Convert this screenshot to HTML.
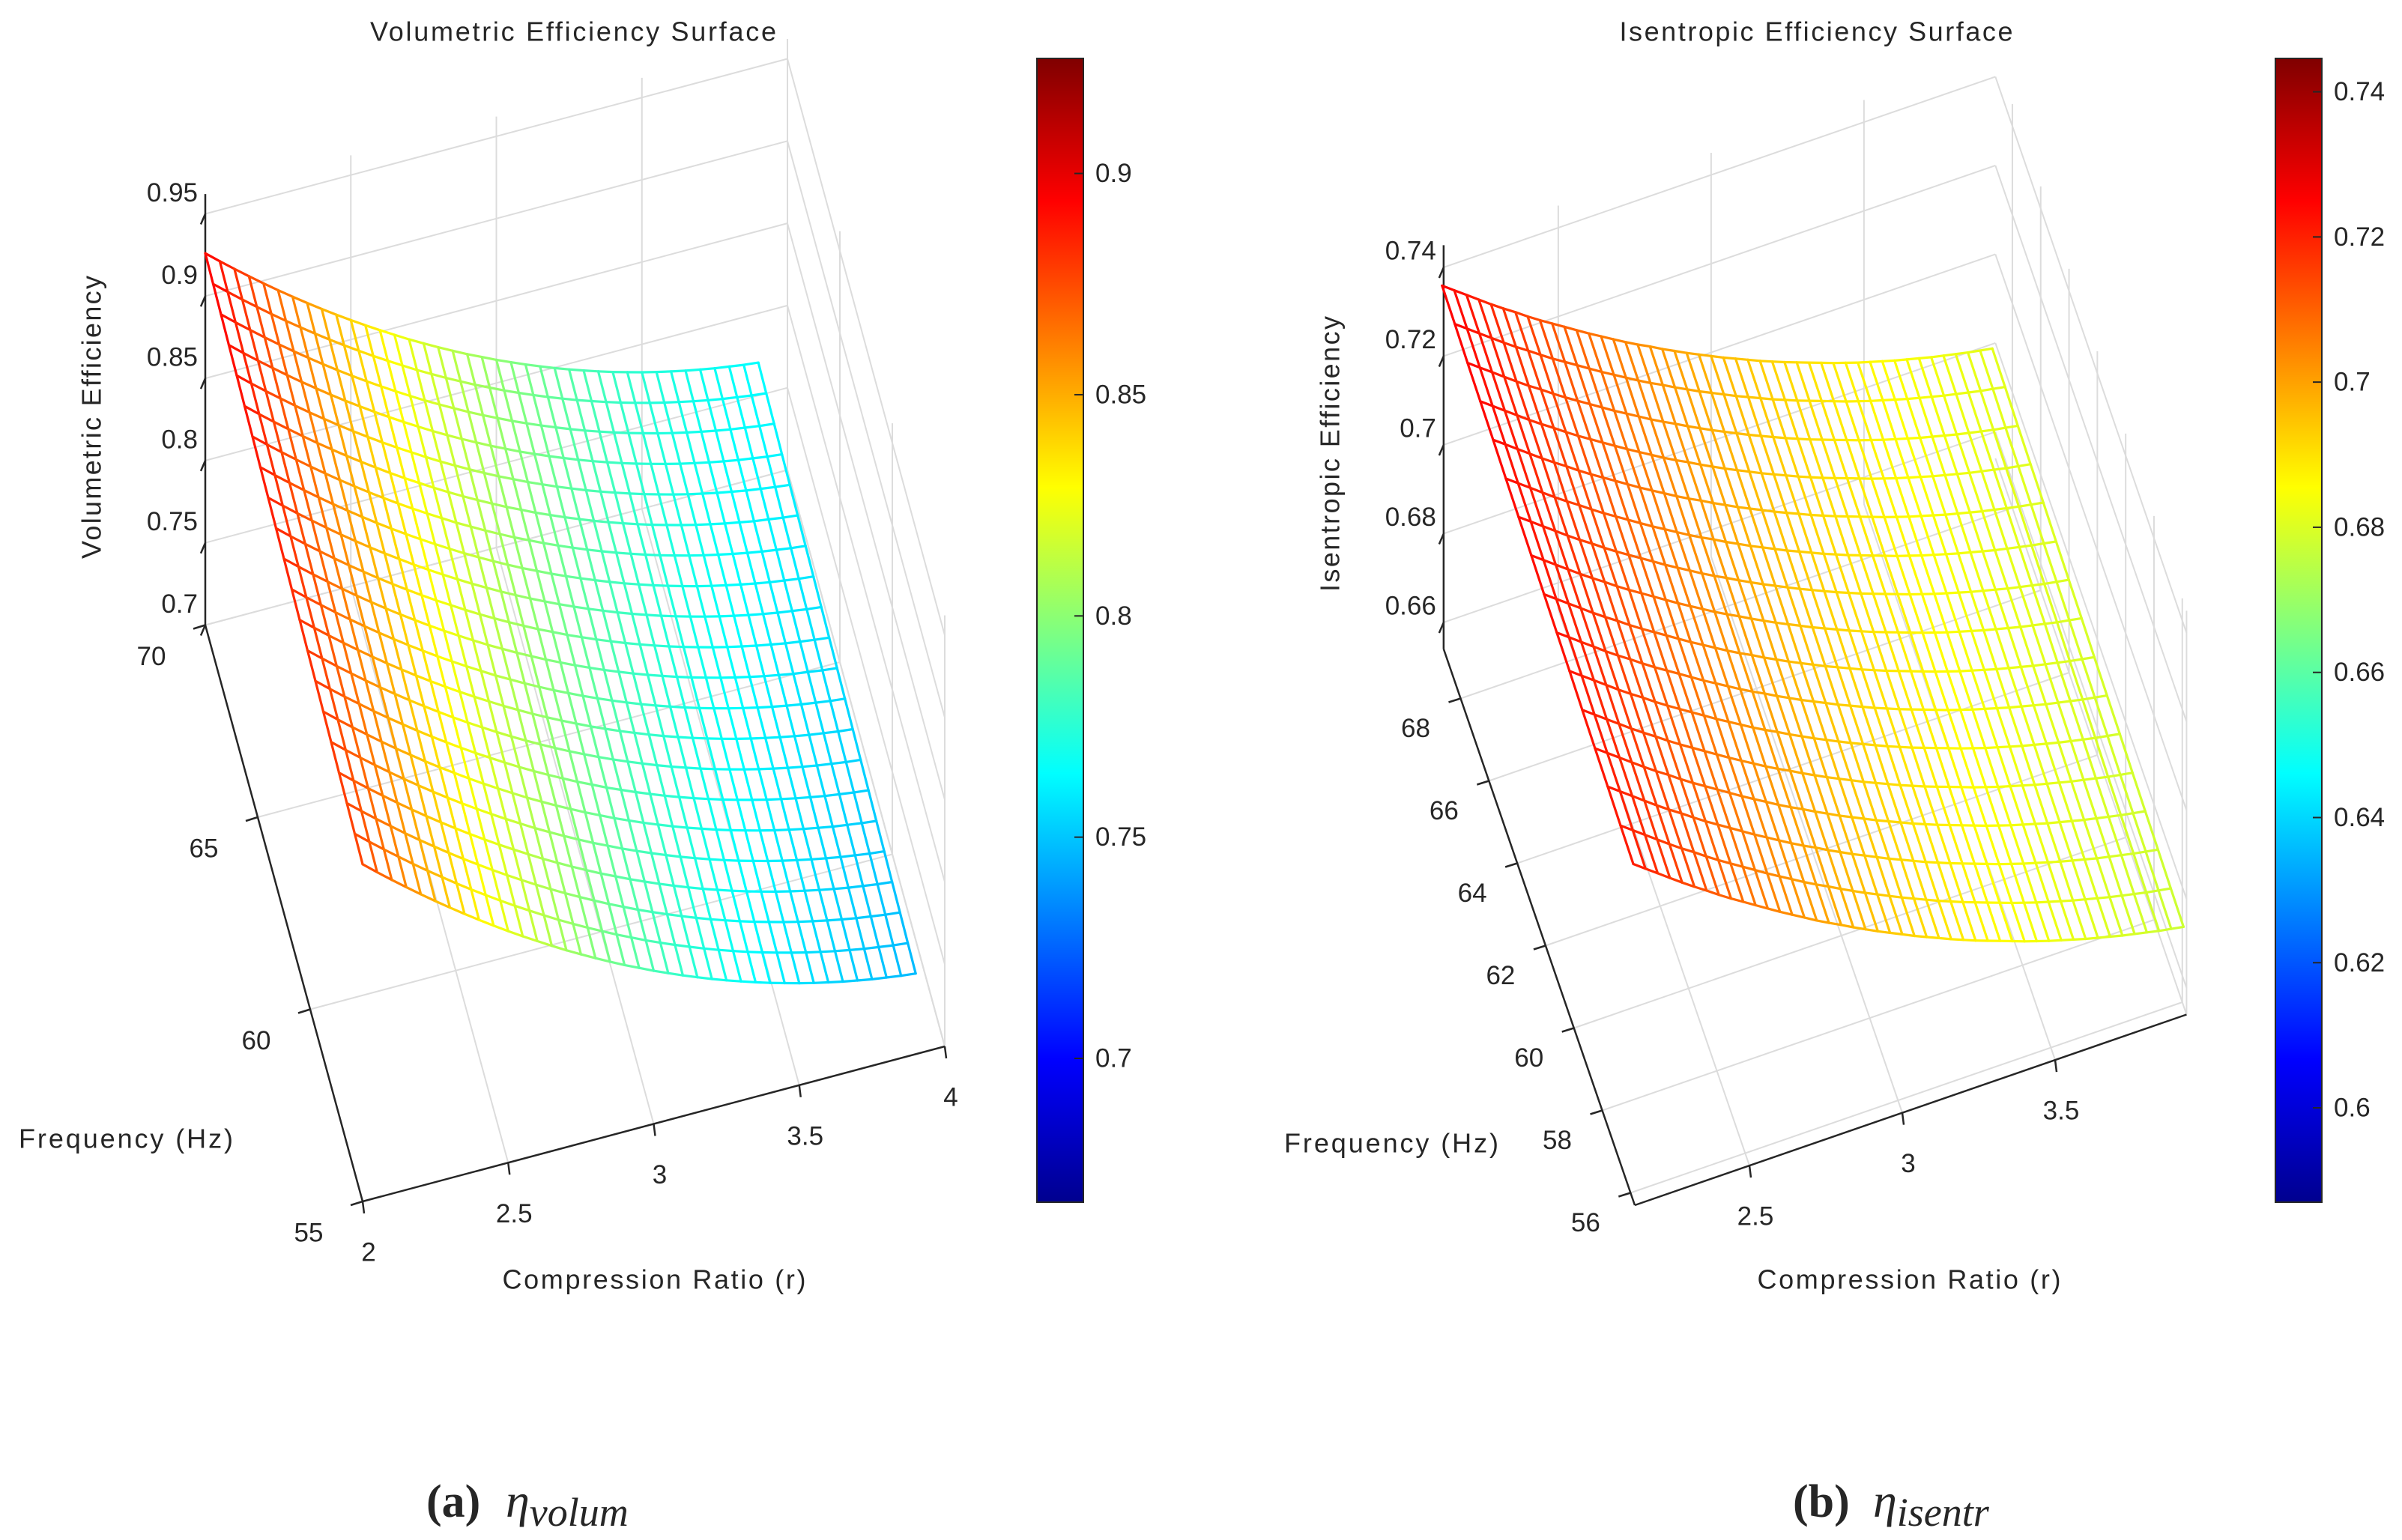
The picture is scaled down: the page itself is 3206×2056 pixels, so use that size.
<!DOCTYPE html>
<html><head><meta charset="utf-8"><style>
html,body{margin:0;padding:0;background:#fff;}
svg{display:block;}
text{font-family:"Liberation Sans",Arial,sans-serif;fill:#262626;}
</style></head><body>
<svg id="fig" xmlns="http://www.w3.org/2000/svg" width="3206" height="2056" viewBox="0 0 3206 2056">
<rect x="0" y="0" width="3206" height="2056" fill="#fff"/>
<defs>
<linearGradient id="jet" x1="0" y1="1" x2="0" y2="0">
<stop offset="0" stop-color="#00008f"/><stop offset="0.125" stop-color="#0000ff"/><stop offset="0.375" stop-color="#00ffff"/><stop offset="0.625" stop-color="#ffff00"/><stop offset="0.875" stop-color="#ff0000"/><stop offset="1" stop-color="#800000"/>
</linearGradient>
</defs>
<g id="chartA"></g>
<g id="chartB"></g>
<text x="569" y="2025" font-weight="bold" font-size="62" style="font-family:'Liberation Serif',serif">(a)</text>
<text x="675" y="2025" font-size="64" font-style="italic" style="font-family:'Liberation Serif',serif">η<tspan font-size="54" dy="12">volum</tspan></text>
<text x="2393" y="2025" font-weight="bold" font-size="62" style="font-family:'Liberation Serif',serif">(b)</text>
<text x="2500" y="2025" font-size="64" font-style="italic" style="font-family:'Liberation Serif',serif">η<tspan font-size="54" dy="12">isentr</tspan></text>
</svg>
<script>
// ---------- Chart A data (Volumetric efficiency) ----------
const ratioA = [2.00,2.05,2.10,2.15,2.20,2.25,2.30,2.35,2.40,2.45,2.50,2.55,2.60,2.65,2.70,2.75,2.80,2.85,2.90,2.95,3.00,3.05,3.10,3.15,3.20,3.25,3.30,3.35,3.40,3.45,3.50,3.55,3.60,3.65,3.70,3.75,3.80,3.85,3.90];
const effByRatioA = [0.9260,0.9188,0.9118,0.9050,0.8983,0.8918,0.8855,0.8793,0.8733,0.8675,0.8618,0.8563,0.8510,0.8458,0.8407,0.8359,0.8312,0.8267,0.8223,0.8182,0.8141,0.8103,0.8066,0.8031,0.7997,0.7965,0.7935,0.7906,0.7879,0.7854,0.7830,0.7808,0.7788,0.7769,0.7752,0.7736,0.7723,0.7710,0.7700];
const freqA = [55,55.75,56.5,57.25,58,58.75,59.5,60.25,61,61.75,62.5,63.25,64,64.75,65.5,66.25,67,67.75,68.5,69.25,70];
const effByFreqA = [-0.0210,-0.0200,-0.0189,-0.0179,-0.0168,-0.0158,-0.0147,-0.0137,-0.0126,-0.0116,-0.0105,-0.0095,-0.0084,-0.0074,-0.0063,-0.0053,-0.0042,-0.0032,-0.0021,-0.0011,0];
const xTicksA = [2,2.5,3,3.5,4];
const xTickLabelsA = ["2","2.5","3","3.5","4"];
const fTicksA = [55,60,65,70];
const fTickLabelsA = ["55","60","65","70"];
const zTicksA = [0.7,0.75,0.8,0.85,0.9,0.95];
const zTickLabelsA = ["0.7","0.75","0.8","0.85","0.9","0.95"];
const cbTicksA = [0.7,0.75,0.8,0.85,0.9];
const cbTickLabelsA = ["0.7","0.75","0.8","0.85","0.9"];

// ---------- Chart B data (Isentropic efficiency) ----------
const ratioB = [2.12,2.16,2.20,2.24,2.28,2.32,2.36,2.40,2.44,2.48,2.52,2.56,2.60,2.64,2.68,2.72,2.76,2.80,2.84,2.88,2.92,2.96,3.00,3.04,3.08,3.12,3.16,3.20,3.24,3.28,3.32,3.36,3.40,3.44,3.48,3.52,3.56,3.60,3.64,3.68,3.72,3.76,3.80,3.84,3.88,3.92];
const effByRatioB = [0.7360,0.7340,0.7320,0.7300,0.7280,0.7261,0.7243,0.7224,0.7206,0.7189,0.7172,0.7155,0.7138,0.7122,0.7106,0.7090,0.7075,0.7061,0.7046,0.7032,0.7018,0.7005,0.6992,0.6979,0.6967,0.6955,0.6943,0.6932,0.6921,0.6911,0.6901,0.6891,0.6881,0.6872,0.6863,0.6855,0.6847,0.6839,0.6832,0.6825,0.6818,0.6812,0.6806,0.6800,0.6795,0.6790];
const freqB = [55.7,56.6,57.5,58.4,59.3,60.2,61.1,62.0,62.9,63.8,64.7,65.6,66.5,67.4,68.3,69.2];
const effByFreqB = [-0.0050,-0.0047,-0.0043,-0.0040,-0.0037,-0.0033,-0.0030,-0.0027,-0.0023,-0.0020,-0.0017,-0.0013,-0.0010,-0.0007,-0.0003,0];
const xTicksB = [2.5,3,3.5];
const xTickLabelsB = ["2.5","3","3.5"];
const fTicksB = [56,58,60,62,64,66,68];
const fTickLabelsB = ["56","58","60","62","64","66","68"];
const zTicksB = [0.66,0.68,0.7,0.72,0.74];
const zTickLabelsB = ["0.66","0.68","0.7","0.72","0.74"];
const cbTicksB = [0.6,0.62,0.64,0.66,0.68,0.7,0.72,0.74];
const cbTickLabelsB = ["0.6","0.62","0.64","0.66","0.68","0.7","0.72","0.74"];

const NS = "http://www.w3.org/2000/svg";
function mk(tag, attrs, parent){
  const e = document.createElementNS(NS, tag);
  for (const k in attrs) e.setAttribute(k, attrs[k]);
  parent.appendChild(e);
  return e;
}
function jet(t){
  t = Math.max(0, Math.min(1, t));
  function c(v){ return Math.round(255*Math.max(0, Math.min(1, v))); }
  const r = 1.5 - Math.abs(4*t - 3), g = 1.5 - Math.abs(4*t - 2), b = 1.5 - Math.abs(4*t - 1);
  return "rgb(" + c(r) + "," + c(g) + "," + c(b) + ")";
}

function drawChart(g, cfg, ratios, effR, freqs, effF, xT, xTL, fT, fTL, zT, zTL, cbT, cbTL){
  const P = (x, f, z) => [
    cfg.C[0] + (x - cfg.x0)*cfg.ex[0] + (f - cfg.f0)*cfg.ef[0],
    cfg.C[1] + (x - cfg.x0)*cfg.ex[1] + (f - cfg.f0)*cfg.ef[1] + (z - cfg.z0)*cfg.ez
  ];
  const grid = mk("g", {}, g);
  
  
  function gl(a, b){
    const l = mk("line", {x1:a[0], y1:a[1], x2:b[0], y2:b[1], stroke:"#dcdcdc", "stroke-width":2}, grid);
    
    
  }
  const {xmin,xmax,fmin,fmax,zmin,zmax} = cfg;
  xT.forEach(x => { gl(P(x,fmin,zmin), P(x,fmax,zmin)); gl(P(x,fmax,zmin), P(x,fmax,zmax)); });
  fT.forEach(f => { gl(P(xmin,f,zmin), P(xmax,f,zmin)); gl(P(xmax,f,zmin), P(xmax,f,zmax)); });
  zT.forEach(z => { gl(P(xmin,fmax,z), P(xmax,fmax,z)); gl(P(xmax,fmin,z), P(xmax,fmax,z)); });
  gl(P(xmax,fmin,zmin), P(xmax,fmax,zmin));
  gl(P(xmax,fmin,zmin), P(xmax,fmin,zmax));

  const ax = mk("g", {}, g);
  
  
  function al(a, b, name){
    const l = mk("line", {x1:a[0], y1:a[1], x2:b[0], y2:b[1], stroke:"#262626", "stroke-width":2.5}, ax);
    
    
  }
  al(P(xmin,fmax,zmin), P(xmin,fmax,zmax), 'z-axis-line');
  al(P(xmin,fmin,zmin), P(xmin,fmax,zmin), 'frequency-axis-line');
  al(P(xmin,fmin,zmin), P(xmax,fmin,zmin), 'x-axis-line');

  function label(txt, x, y, anchor, name, size){
    const t = mk("text", {x:x, y:y, "text-anchor":anchor, "dominant-baseline":"central", "font-size":size||35}, g);
    t.textContent = txt;
    
    
    return t;
  }
  zT.forEach((z,i) => {
    const p = P(xmin,fmax,z);
    al(p, [p[0]-6, p[1]+14], 'z-tick');
    label(zTL[i], p[0]-10, p[1]+cfg.zLabOff, "end", 'z-tick-label');
  });
  fT.forEach((f,i) => {
    const p = P(xmin,f,zmin);
    al(p, [p[0]-16, p[1]+5], 'frequency-tick');
    label(fTL[i], p[0]+cfg.fLabOff[0], p[1]+cfg.fLabOff[1], "middle", 'frequency-tick-label');
  });
  xT.forEach((x,i) => {
    const p = P(x,fmin,zmin);
    al(p, [p[0]+2, p[1]+16], 'x-tick');
    label(xTL[i], p[0]+8, p[1]+68, "middle", 'x-tick-label');
  });

  // surface mesh
  const mesh = mk("g", {"stroke-width":3.2, "stroke-linecap":"round"}, g);
  
  
  const Z = (i,j) => effR[i] + effF[j];
  const col = z => jet((z - cfg.smin)/(cfg.smax - cfg.smin));
  function seg(i1,j1,i2,j2, name){
    const z1 = Z(i1,j1), z2 = Z(i2,j2);
    const a = P(ratios[i1], freqs[j1], z1), b = P(ratios[i2], freqs[j2], z2);
    const l = mk("line", {x1:a[0].toFixed(1), y1:a[1].toFixed(1), x2:b[0].toFixed(1), y2:b[1].toFixed(1), stroke:col((z1+z2)/2)}, mesh);
    
    
  }
  for (let i=0;i<ratios.length;i++) for (let j=0;j<freqs.length-1;j++) seg(i,j,i,j+1,'mesh-ratio-line');
  for (let j=0;j<freqs.length;j++) for (let i=0;i<ratios.length-1;i++) seg(i,j,i+1,j,'mesh-frequency-line');

  // colorbar
  const cb = mk("rect", {x:cfg.cbx, y:78, width:62, height:1527, fill:"url(#jet)", stroke:"#262626", "stroke-width":2}, g);
  
  
  const cy = v => 1605 - (v - cfg.cmin)/(cfg.cmax - cfg.cmin)*1527;
  cbT.forEach((v,i) => {
    const y = cy(v);
    const tk = mk("line", {x1:cfg.cbx+50, y1:y, x2:cfg.cbx+62, y2:y, stroke:"#262626", "stroke-width":2}, g);
    
    
    label(cbTL[i], cfg.cbx+78, y, "start", 'colorbar-tick-label');
  });

  // titles
  const tt = label(cfg.title, cfg.titleX, 42, "middle", 'chart-title', 36);
  tt.setAttribute("textLength", cfg.titleW);
  const yl = mk("text", {x:0, y:0, "text-anchor":"middle", "dominant-baseline":"central", "font-size":36, transform:"translate("+cfg.zLab[0]+","+cfg.zLab[1]+") rotate(-90)", textLength:cfg.zLab[2]}, g);
  yl.textContent = cfg.zTitle;
  
  
  const fl = label("Frequency (Hz)", cfg.fTitle[0], cfg.fTitle[1], "middle", 'frequency-axis-title', 36);
  fl.setAttribute("textLength", 286);
  const xl = label("Compression Ratio (r)", cfg.xTitle[0], cfg.xTitle[1], "middle", 'x-axis-title', 36);
  xl.setAttribute("textLength", 405);
}

drawChart(document.getElementById("chartA"), {
  C:[484,1604], x0:2, f0:55, z0:0.7, ex:[388.5,-103.5], ef:[-14,-51.3], ez:-2196,
  xmin:2, xmax:4, fmin:55, fmax:70, zmin:0.7, zmax:0.962,
  zLabOff:-28, fLabOff:[-72,42], cmin:0.6675, cmax:0.926, smin:0.653, smax:0.965, cbx:1384,
  title:"Volumetric Efficiency Surface", titleX:765, titleW:542,
  zTitle:"Volumetric Efficiency", zLab:[122,557,378], fTitle:[168,1520], xTitle:[873,1708]
}, ratioA, effByRatioA, freqA, effByFreqA, xTicksA, xTickLabelsA, fTicksA, fTickLabelsA, zTicksA, zTickLabelsA, cbTicksA, cbTickLabelsA);

drawChart(document.getElementById("chartB"), {
  C:[2182,1609], x0:2.125, f0:55.7, z0:0.654, ex:[408,-141], ef:[-18.9,-55], ez:-5925,
  xmin:2.125, xmax:3.93, fmin:55.7, fmax:69.2, zmin:0.654, zmax:0.745,
  zLabOff:-22, fLabOff:[-60,40], cmin:0.587, cmax:0.7446, smin:0.555, smax:0.762, cbx:3037,
  title:"Isentropic Efficiency Surface", titleX:2424, titleW:525,
  zTitle:"Isentropic Efficiency", zLab:[1775,606,368], fTitle:[1857,1526], xTitle:[2548,1708]
}, ratioB, effByRatioB, freqB, effByFreqB, xTicksB, xTickLabelsB, fTicksB, fTickLabelsB, zTicksB, zTickLabelsB, cbTicksB, cbTickLabelsB);
</script>
</body></html>
